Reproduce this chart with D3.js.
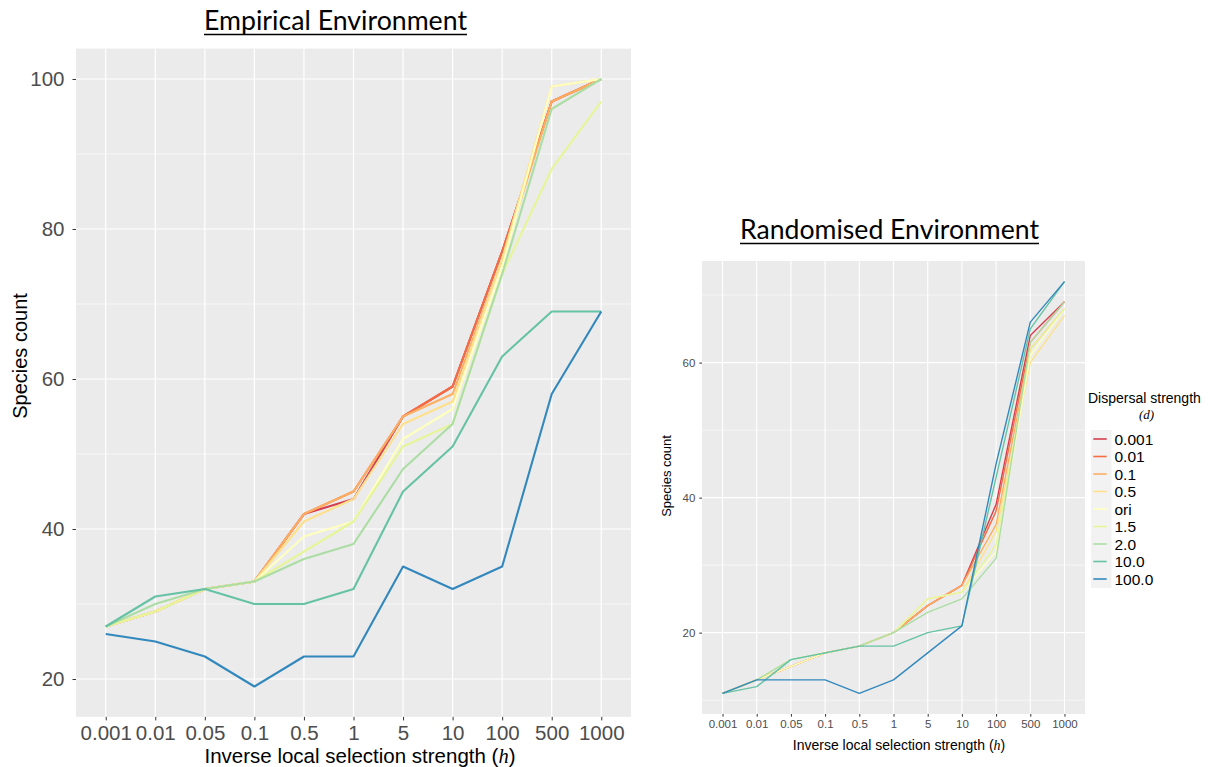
<!DOCTYPE html>
<html>
<head>
<meta charset="utf-8">
<script src="https://cdn.jsdelivr.net/npm/d3@7/dist/d3.min.js"></script>
<style>
  html, body { margin: 0; padding: 0; background: #ffffff; }
  svg { display: block; }
</style>
</head>
<body>
<svg id="chart" width="1215" height="767"></svg>
<script>
// ---------------- data ----------------
const categories = ["0.001","0.01","0.05","0.1","0.5","1","5","10","100","500","1000"];
const dispersal = ["0.001","0.01","0.1","0.5","ori","1.5","2.0","10.0","100.0"];
const palette = ["#d53e4f","#f46d43","#fdae61","#fee08b","#ffffbf","#e6f598","#abdda4","#66c2a5","#3288bd"];

// Empirical environment: species count per dispersal strength
const emp_0_001 = [27,29,32,33,42,44,55,59,77,97,100];
const emp_0_01  = [27,29,32,33,42,45,55,59,77,97,100];
const emp_0_1   = [27,29,32,33,42,45,55,58,76,97,100];
const emp_0_5   = [27,29,32,33,41,44,54,57,76,99,100];
const emp_ori   = [27,29,32,33,39,41,52,56,75,99,100];
const emp_1_5   = [27,29,32,33,37,41,51,54,74,88,97];
const emp_2_0   = [27,30,32,33,36,38,48,54,74,96,100];
const emp_10_0  = [27,31,32,30,30,32,45,51,63,69,69];
const emp_100_0 = [26,25,23,19,23,23,35,32,35,58,69];

// Randomised environment
const rnd_0_001 = [11,13,15,17,18,20,24,27,39,64,69];
const rnd_0_01  = [11,13,15,17,18,20,24,27,38,63,69];
const rnd_0_1   = [11,13,15,17,18,20,24,27,36,62,68];
const rnd_0_5   = [11,13,15,17,18,20,25,26,35,60,67];
const rnd_ori   = [11,13,15,17,18,20,25,26,32,61,68];
const rnd_1_5   = [11,13,16,17,18,20,25,26,33,62,68];
const rnd_2_0   = [11,13,16,17,18,20,23,25,31,63,69];
const rnd_10_0  = [11,12,16,17,18,18,20,21,43,65,72];
const rnd_100_0 = [11,13,13,13,11,13,17,21,45,66,72];

const empTicks = [20,40,60,80,100];
const empMinor = [30,50,70,90];
const rndTicks = [20,40,60];
const rndMinor = [10,30,50,70];

const empSeries = [emp_0_001,emp_0_01,emp_0_1,emp_0_5,emp_ori,emp_1_5,emp_2_0,emp_10_0,emp_100_0];
const rndSeries = [rnd_0_001,rnd_0_01,rnd_0_1,rnd_0_5,rnd_ori,rnd_1_5,rnd_2_0,rnd_10_0,rnd_100_0];

// ---------------- drawing ----------------
const svg = d3.select("#chart");
const FONT = "'Liberation Sans', Arial, Helvetica, sans-serif";

function drawPanel(cfg) {
  const g = svg.append("g");
  const x = d3.scalePoint().domain(categories).range([cfg.x0, cfg.x1]).padding(0.6);
  const all = cfg.series.flat();
  const lo = d3.min(all), hi = d3.max(all), pad = (hi - lo) * 0.05;
  const y = d3.scaleLinear().domain([lo - pad, hi + pad]).range([cfg.y1, cfg.y0]);

  g.append("rect").attr("x", cfg.x0).attr("y", cfg.y0)
    .attr("width", cfg.x1 - cfg.x0).attr("height", cfg.y1 - cfg.y0)
    .attr("fill", "#ebebeb");

  g.selectAll(".ymin").data(cfg.minor).join("line")
    .attr("x1", cfg.x0).attr("x2", cfg.x1)
    .attr("y1", d => y(d)).attr("y2", d => y(d))
    .attr("stroke", "#fff").attr("stroke-width", cfg.minorW);
  g.selectAll(".ymaj").data(cfg.ticks).join("line")
    .attr("x1", cfg.x0).attr("x2", cfg.x1)
    .attr("y1", d => y(d)).attr("y2", d => y(d))
    .attr("stroke", "#fff").attr("stroke-width", cfg.majorW);
  g.selectAll(".xmaj").data(categories).join("line")
    .attr("x1", d => x(d)).attr("x2", d => x(d))
    .attr("y1", cfg.y0).attr("y2", cfg.y1)
    .attr("stroke", "#fff").attr("stroke-width", cfg.majorW);

  const line = d3.line().x((d, i) => x(categories[i])).y(d => y(d));
  cfg.series.forEach((s, k) => {
    g.append("path").datum(s).attr("d", line)
      .attr("fill", "none").attr("stroke", palette[k])
      .attr("stroke-width", cfg.lineW).attr("stroke-linejoin", "round");
  });

  const ya = d3.axisLeft(y).tickValues(cfg.ticks).tickSize(cfg.tick).tickPadding(cfg.tickPad);
  const yg = g.append("g").attr("transform", `translate(${cfg.x0},0)`).call(ya);
  const xa = d3.axisBottom(x).tickSize(cfg.tick).tickPadding(cfg.tickPadX);
  const xg = g.append("g").attr("transform", `translate(0,${cfg.y1})`).call(xa);
  [yg, xg].forEach(a => {
    a.select(".domain").remove();
    a.selectAll(".tick line").attr("stroke", "#333").attr("stroke-width", 1);
    a.selectAll(".tick text").attr("fill", "#4d4d4d")
      .style("font-family", FONT).style("font-size", cfg.tickFont + "px");
  });

  g.append("text")
    .attr("transform", `translate(${cfg.yTitleX},${cfg.yTitleY}) rotate(-90)`)
    .attr("text-anchor", "middle").style("font-family", FONT)
    .style("font-size", cfg.titleFont + "px").attr("fill", "#000")
    .text("Species count");
  const xt = g.append("text").attr("x", cfg.xTitleX).attr("y", cfg.xTitleY)
    .attr("text-anchor", "middle").style("font-family", FONT)
    .style("font-size", cfg.xTitleFont + "px").attr("fill", "#000");
  xt.append("tspan").text("Inverse local selection strength (");
  xt.append("tspan").style("font-family", "'Liberation Serif', 'DejaVu Serif', serif")
    .style("font-style", "italic").text("h");
  xt.append("tspan").text(")");

  svg.append("text").attr("x", cfg.headX).attr("y", cfg.headY)
    .attr("text-anchor", "middle")
    .style("font-family", "Lato, 'Open Sans', sans-serif")
    .style("font-size", cfg.headFont + "px").attr("fill", "#000")
    .attr("textLength", cfg.headW).attr("lengthAdjust", "spacingAndGlyphs")
    .text(cfg.head);
  svg.append("line")
    .attr("x1", cfg.headX - cfg.headW / 2).attr("x2", cfg.headX + cfg.headW / 2)
    .attr("y1", cfg.headY + 4.5).attr("y2", cfg.headY + 4.5)
    .attr("stroke", "#000").attr("stroke-width", 1.5);
}

drawPanel({
  series: empSeries, ticks: empTicks, minor: empMinor,
  x0: 76, x1: 631, y0: 48.6, y1: 716.9,
  majorW: 1.2, minorW: 0.6, lineW: 2.1,
  tick: 3.5, tickPad: 8, tickPadX: 5, tickFont: 20.5,
  titleFont: 20, xTitleFont: 20.5, yTitleX: 27, yTitleY: 356, xTitleX: 360, xTitleY: 763,
  head: "Empirical Environment", headX: 335.5, headY: 30, headFont: 27, headW: 263
});

drawPanel({
  series: rndSeries, ticks: rndTicks, minor: rndMinor,
  x0: 702, x1: 1085, y0: 261, y1: 714,
  majorW: 1.1, minorW: 0.55, lineW: 1.4,
  tick: 2.7, tickPad: 4, tickPadX: 3.5, tickFont: 11.5,
  titleFont: 13, xTitleFont: 14, yTitleX: 671, yTitleY: 476, xTitleX: 899, xTitleY: 750,
  head: "Randomised Environment", headX: 889.5, headY: 239, headFont: 27, headW: 299
});

// ---------------- legend ----------------
const lg = svg.append("g");
lg.append("text").attr("x", 1088).attr("y", 403)
  .style("font-family", FONT).style("font-size", "14px").attr("fill", "#000")
  .text("Dispersal strength");
lg.append("text").attr("x", 1146.5).attr("y", 419).attr("text-anchor", "middle")
  .style("font-family", "'Liberation Serif', 'DejaVu Serif', serif").style("font-style", "italic")
  .style("font-size", "13px").attr("fill", "#000").text("(d)");
const ky = d3.scalePoint().domain(dispersal).range([439, 579]);
lg.append("rect").attr("x", 1091).attr("y", 430).attr("width", 20.5).attr("height", 158)
  .attr("fill", "#f2f2f2");
lg.selectAll(".key").data(dispersal).join("line")
  .attr("x1", 1093.3).attr("x2", 1106.7)
  .attr("y1", d => ky(d)).attr("y2", d => ky(d))
  .attr("stroke", (d, i) => palette[i]).attr("stroke-width", 1.6);
lg.selectAll(".lab").data(dispersal).join("text")
  .attr("x", 1114.5).attr("y", d => ky(d) + 5.5)
  .style("font-family", FONT).style("font-size", "15.5px").attr("fill", "#000")
  .text(d => d);
</script>
</body>
</html>
